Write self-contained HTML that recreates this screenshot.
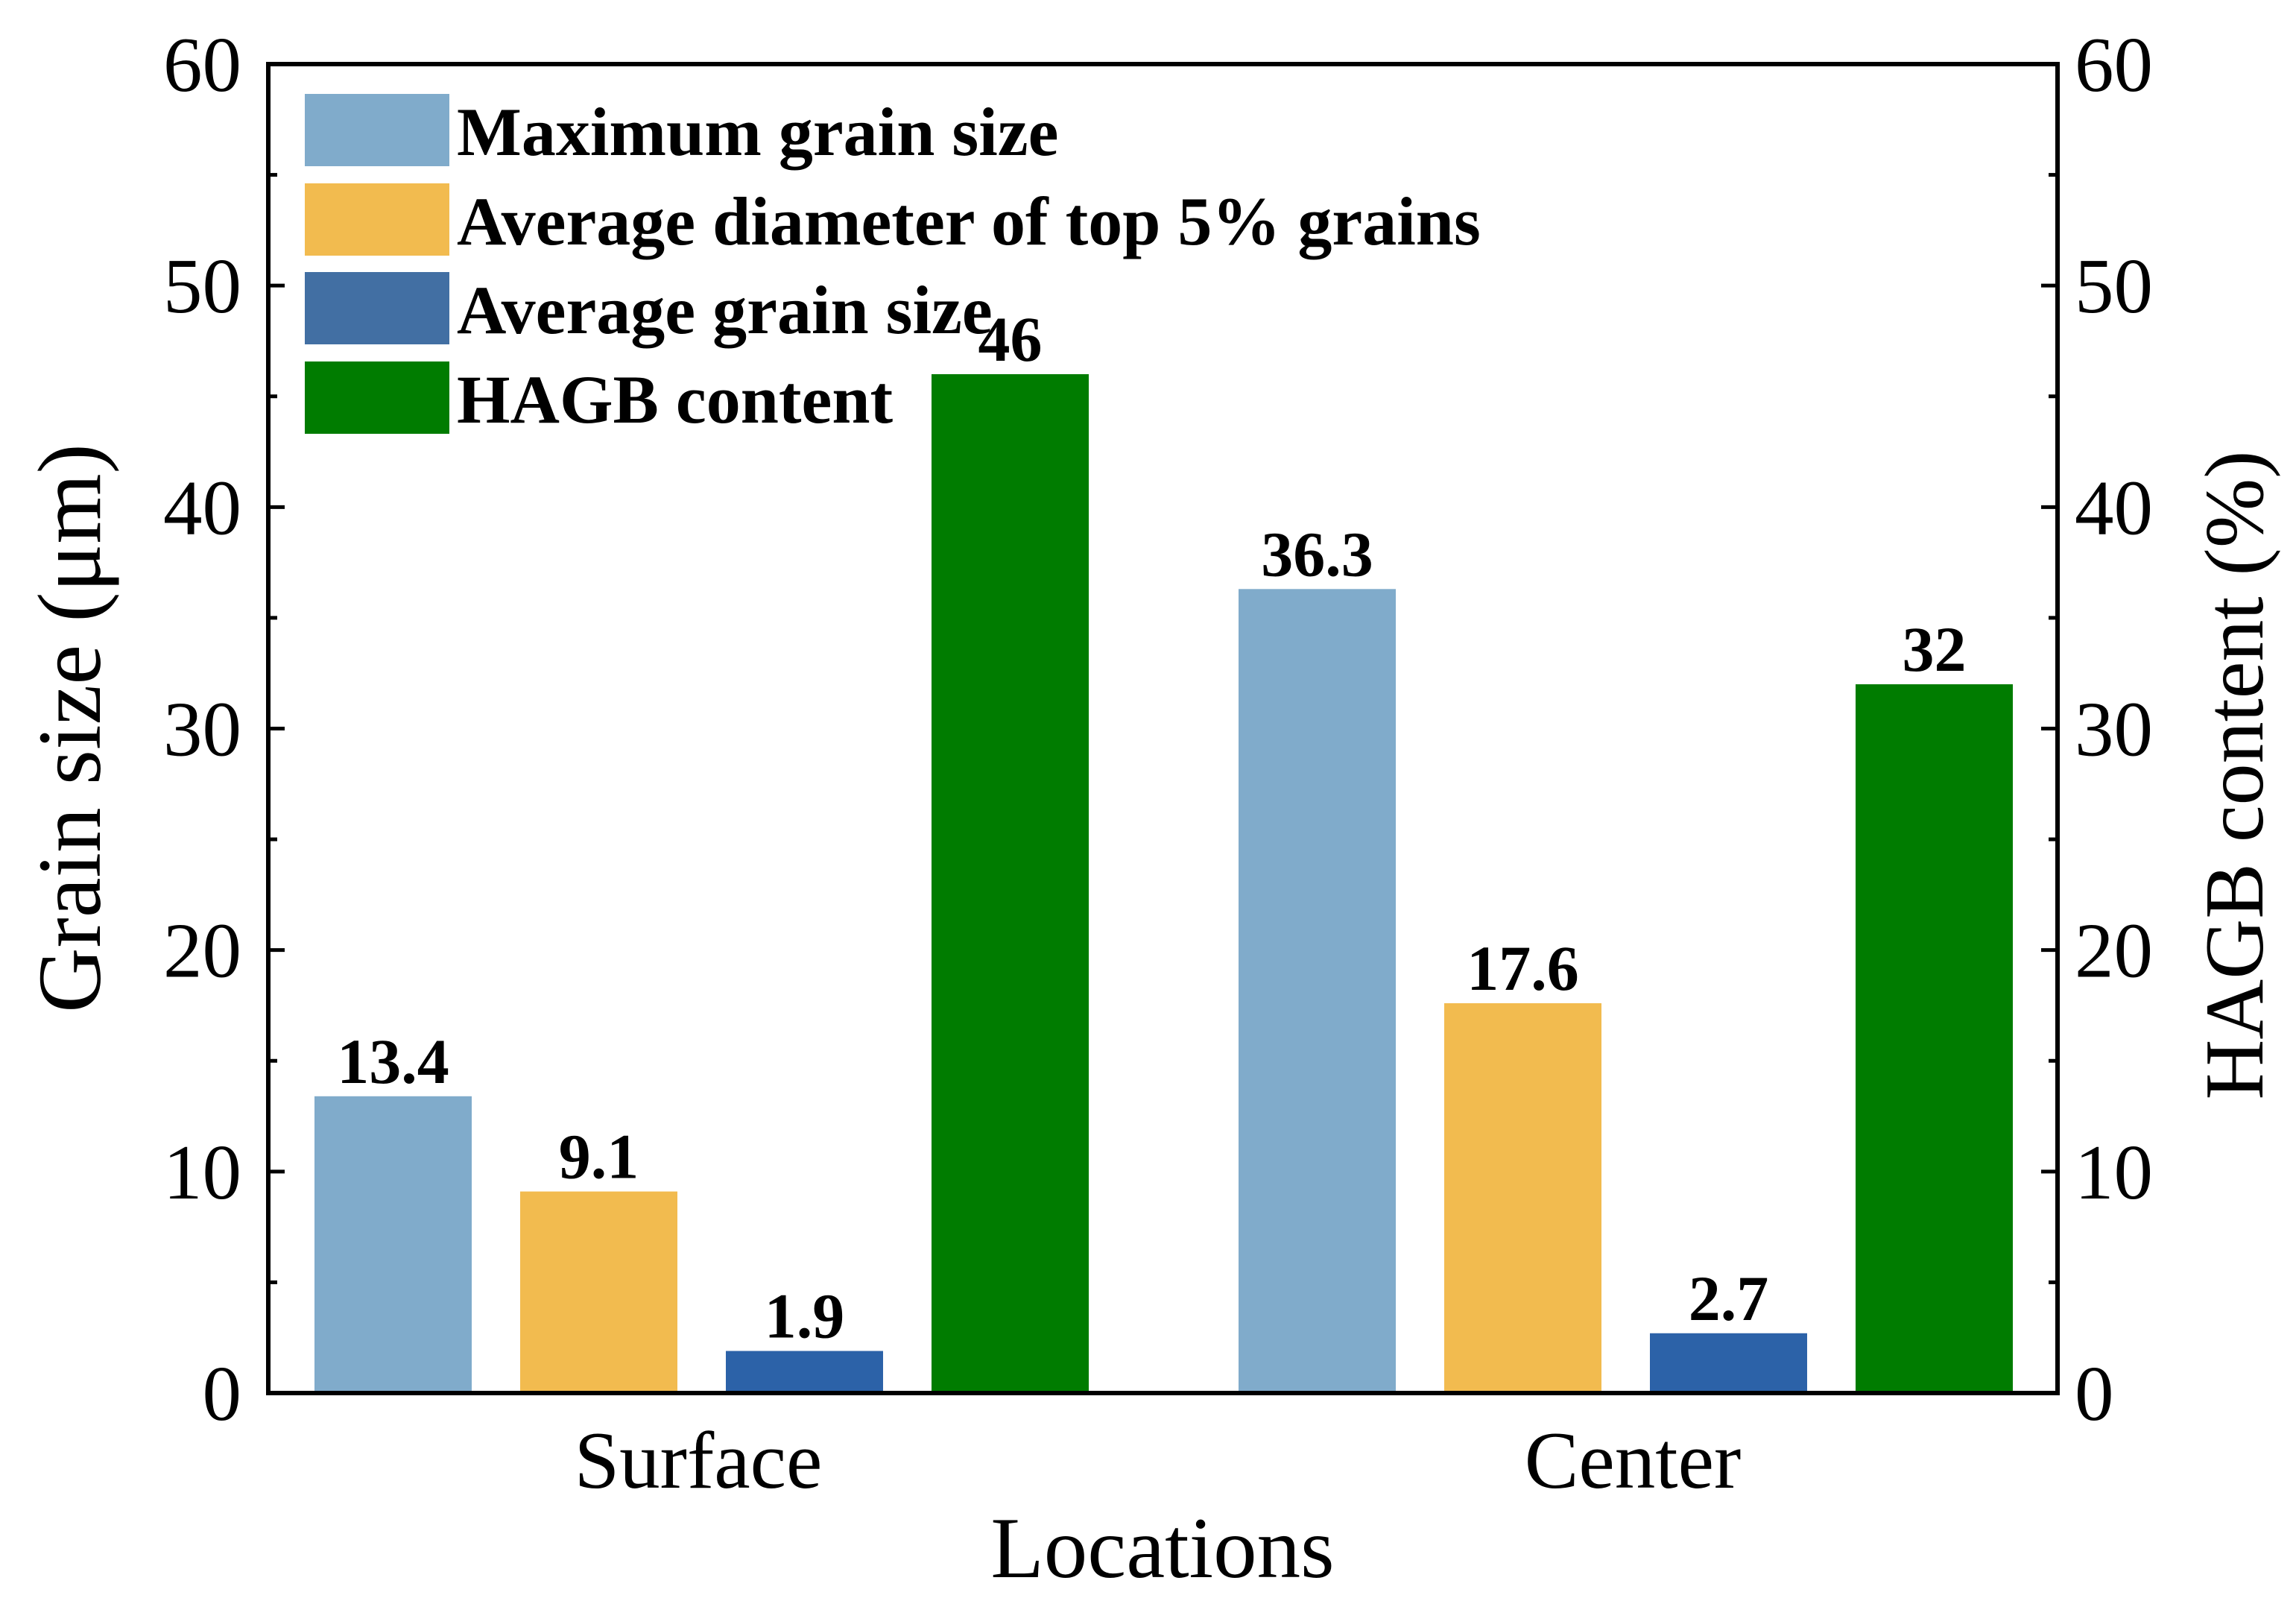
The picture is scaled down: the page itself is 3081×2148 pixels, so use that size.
<!DOCTYPE html>
<html><head><meta charset="utf-8"><style>
html,body{margin:0;padding:0;background:#fff;}
svg{display:block;font-family:"Liberation Serif",serif;}
</style></head><body>
<svg id="chart" width="3081" height="2148" viewBox="0 0 3081 2148"></svg>
<script>
const categories = ["Surface", "Center"];
const seriesNames = ["Maximum grain size", "Average diameter of top 5% grains", "Average grain size", "HAGB content"];
const maxGrain = [13.4, 36.3];
const top5 = [9.1, 17.6];
const avgGrain = [1.9, 2.7];
const hagb = [46, 32];
const valueLabels = [["13.4","36.3"],["9.1","17.6"],["1.9","2.7"],["46","32"]];
const yTicks = [0, 10, 20, 30, 40, 50, 60];
const colors = ["#80abcb", "#f2bb4f", "#2c62a8", "#007c00"];
const legendColors = ["#80abcb", "#f2bb4f", "#426fa3", "#007c00"];

const NS = "http://www.w3.org/2000/svg";
const svg = document.getElementById("chart");
const L = 360, R = 2761, T = 86, B = 1869;
const yMax = 60;
function y(v){ return B - (v / yMax) * (B - T); }
const groupStart = [422, 1662];
const barW = 211, barStep = 276;
function xBar(ci, si){ return groupStart[ci] + si * barStep; }

function mk(tag, attrs, parent){
  const e = document.createElementNS(NS, tag);
  for (const k in attrs) e.setAttribute(k, attrs[k]);
  (parent || svg).appendChild(e);
  return e;
}

const series = [maxGrain, top5, avgGrain, hagb];
series.forEach((vals, si) => {
  vals.forEach((v, ci) => {
    const r = mk("rect", {x: xBar(ci, si), y: y(v), width: barW, height: B - y(v), fill: colors[si]});
    
    
    const t = mk("text", {x: xBar(ci, si) + barW / 2, y: y(v) - 18, "text-anchor": "middle", "font-size": 86, "font-weight": "bold"});
    t.textContent = valueLabels[si][ci];
    
    
  });
});

const frame = mk("rect", {x: L, y: T, width: R - L, height: B - T, fill: "none", stroke: "#000", "stroke-width": 6});



for (let v = 0; v <= yMax; v += 5) {
  const major = v % 10 === 0;
  const len = major ? 22 : 12;
  mk("line", {x1: L, x2: L + len, y1: y(v), y2: y(v), stroke: "#000", "stroke-width": 5});
  mk("line", {x1: R, x2: R - len, y1: y(v), y2: y(v), stroke: "#000", "stroke-width": 5});
}
yTicks.forEach(v => {
  const t1 = mk("text", {x: 324, y: y(v) + 36, "text-anchor": "end", "font-size": 105});
  t1.textContent = v;
  
  
  const t2 = mk("text", {x: 2784, y: y(v) + 36, "text-anchor": "start", "font-size": 105});
  t2.textContent = v;
  
  
});

const catX = [937, 2191];
categories.forEach((c, i) => {
  const t = mk("text", {x: catX[i], y: 1996, "text-anchor": "middle", "font-size": 109});
  t.textContent = c;
  
  
});

const xt = mk("text", {x: 1560, y: 2116, "text-anchor": "middle", "font-size": 117});
xt.textContent = "Locations";


const yl = mk("text", {x: 0, y: 0, "text-anchor": "middle", "font-size": 121, transform: "translate(134,977) rotate(-90)"});
yl.textContent = "Grain size (\u03bcm)";


const yr = mk("text", {x: 0, y: 0, "text-anchor": "middle", "font-size": 112, transform: "translate(3036,1040) rotate(-90)"});
yr.textContent = "HAGB content  (%)";



const legY = [126, 246, 365, 485];
seriesNames.forEach((n, i) => {
  const g = mk("g", {});
  
  
  mk("rect", {x: 409, y: legY[i], width: 194, height: 97, fill: legendColors[i]}, g);
  const t = mk("text", {x: 613, y: legY[i] + 82, "font-size": 92, "font-weight": "bold"}, g);
  t.textContent = n;
});
</script>
</body></html>
